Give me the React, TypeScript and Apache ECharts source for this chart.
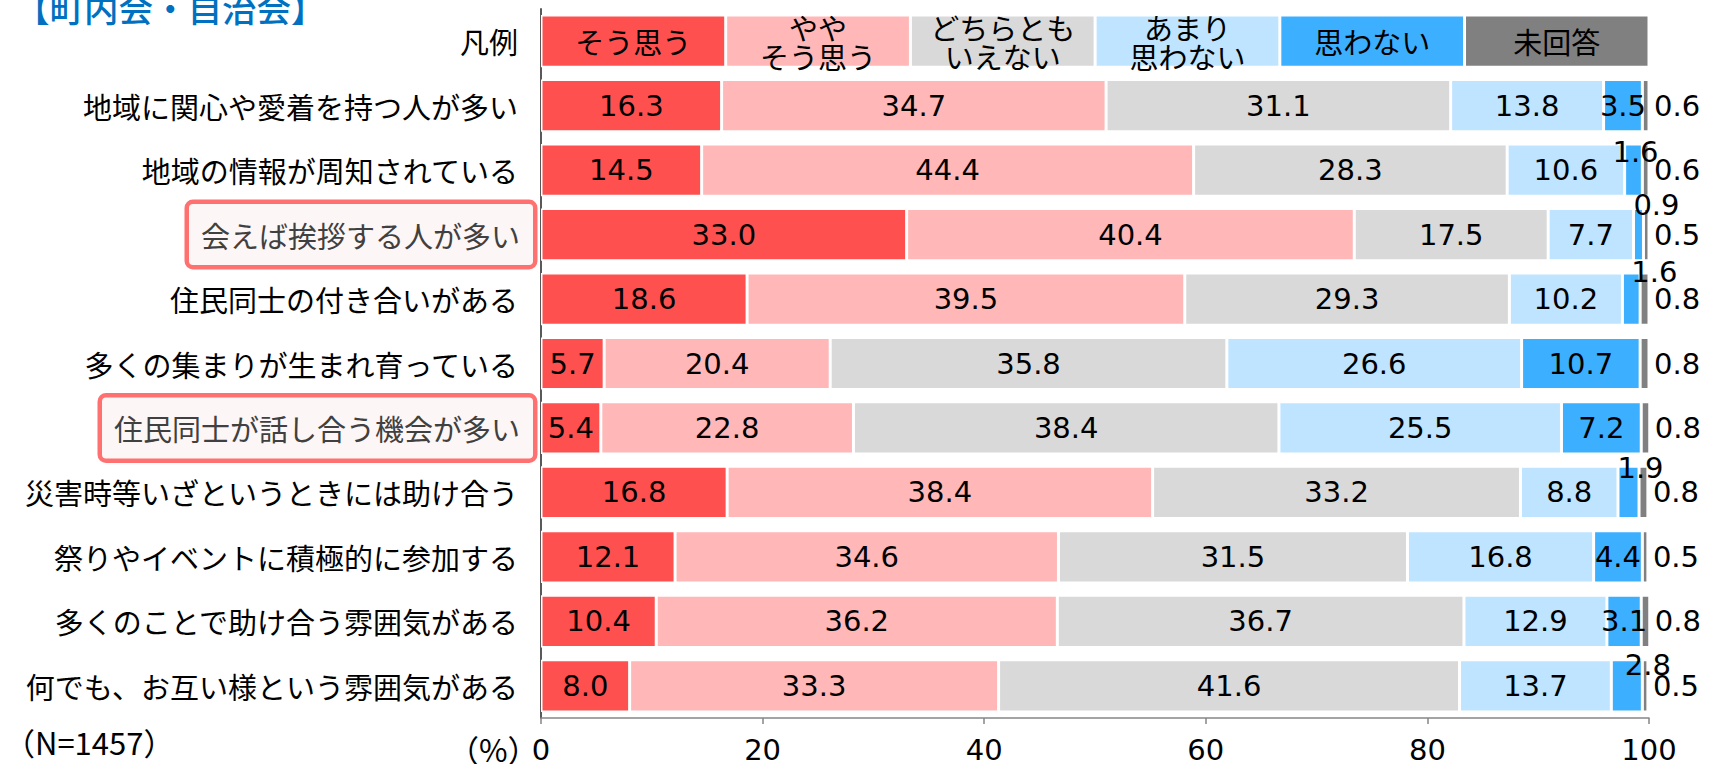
import React, { useEffect, useRef } from "react";
import * as echarts from "echarts";

const legendLabel = "凡例";
const categories = [
  "地域に関心や愛着を持つ人が多い",
  "地域の情報が周知されている",
  "会えば挨拶する人が多い",
  "住民同士の付き合いがある",
  "多くの集まりが生まれ育っている",
  "住民同士が話し合う機会が多い",
  "災害時等いざというときには助け合う",
  "祭りやイベントに積極的に参加する",
  "多くのことで助け合う雰囲気がある",
  "何でも、お互い様という雰囲気がある",
];
const highlighted = ["会えば挨拶する人が多い", "住民同士が話し合う機会が多い"];

const seriesNames = ["そう思う", "ややそう思う", "どちらともいえない", "あまり思わない", "思わない", "未回答"];
const legendTexts = ["そう思う", "やや\nそう思う", "どちらとも\nいえない", "あまり\n思わない", "思わない", "未回答"];
const legendShare = [16.67, 16.67, 16.67, 16.67, 16.67, 16.65];

const soOmou = [16.3, 14.5, 33.0, 18.6, 5.7, 5.4, 16.8, 12.1, 10.4, 8.0];
const yaya = [34.7, 44.4, 40.4, 39.5, 20.4, 22.8, 38.4, 34.6, 36.2, 33.3];
const dochira = [31.1, 28.3, 17.5, 29.3, 35.8, 38.4, 33.2, 31.5, 36.7, 41.6];
const amari = [13.8, 10.6, 7.7, 10.2, 26.6, 25.5, 8.8, 16.8, 12.9, 13.7];
const omowanai = [3.5, 1.6, 0.9, 1.6, 10.7, 7.2, 1.9, 4.4, 3.1, 2.8];
const mikaito = [0.6, 0.6, 0.5, 0.8, 0.8, 0.8, 0.8, 0.5, 0.8, 0.5];

const xTicks = { min: 0, max: 100, interval: 20 };
const sampleNote = "（N=1457）";
const unitNote = "（%）";
const title = "【町内会・自治会】";

const colors = ["#FF5050", "#FFB7B7", "#D9D9D9", "#BFE4FF", "#3DAFFF", "#808080"];

// label offsets for the small 思わない values (row index -> [dx, dy])
const smallLabelOffsets: Record<number, number[]> = {
  1: [2, -18],
  2: [18, -30],
  3: [23, -27],
  6: [12, -24],
  9: [21, -21],
};

const JP = "'Noto Sans CJK JP', 'Noto Sans', sans-serif";
const NUM = "'DejaVu Sans', sans-serif";

export default function App() {
  const ref = useRef<HTMLDivElement>(null);
  useEffect(() => {
    if (!ref.current) return;
    const chart = echarts.init(ref.current, undefined, { renderer: "svg" });
    const allValues = [soOmou, yaya, dochira, amari, omowanai, mikaito];
    const series = seriesNames.map((name, si) => ({
      type: "bar",
      name,
      stack: "total",
      barCategoryGap: "19%",
      silent: true,
      itemStyle: { color: colors[si], borderColor: "#ffffff", borderWidth: 1.5 },
      label: {
        show: true,
        position: si === 5 ? "right" : "inside",
        distance: 5,
        color: "#000",
        fontSize: 29,
        fontFamily: NUM,
        formatter: (p: any) =>
          p.dataIndex === 0 ? legendTexts[si] : Number(p.value).toFixed(1),
      },
      data: [
        {
          value: legendShare[si],
          label: {
            position: "inside",
            fontFamily: JP,
            fontSize: 29,
            lineHeight: 29,
            color: "#000",
          },
        },
        ...allValues[si].map((v, i) => {
          const off = si === 4 ? smallLabelOffsets[i] : undefined;
          return off ? { value: v, label: { offset: off } } : { value: v };
        }),
      ],
    }));

    chart.setOption({
      animation: false,
      grid: { left: 541, right: 62, top: 9, bottom: 45.5, containLabel: false },
      xAxis: {
        type: "value",
        min: xTicks.min,
        max: xTicks.max,
        interval: xTicks.interval,
        splitLine: { show: false },
        axisLine: { show: true, lineStyle: { color: "#868686", width: 1.5 } },
        axisTick: { show: true, length: 6, lineStyle: { color: "#868686", width: 1.5 } },
        axisLabel: { color: "#000", fontSize: 29, fontFamily: NUM, margin: 17 },
      },
      yAxis: {
        type: "category",
        inverse: true,
        data: [legendLabel, ...categories],
        axisLine: { show: true, lineStyle: { color: "#595959", width: 2 } },
        axisTick: { show: false },
        axisLabel: {
          margin: 8,
          formatter: (v: string) => (highlighted.includes(v) ? `{h|${v}}` : `{n|${v}}`),
          rich: {
            n: {
              fontFamily: JP,
              fontSize: 29,
              color: "#000",
              padding: [0, 15, 0, 0],
            },
            h: {
              fontFamily: JP,
              fontSize: 29,
              color: "#404040",
              lineHeight: 32,
              backgroundColor: "#FDF6F6",
              borderColor: "#FF7070",
              borderWidth: 4.5,
              borderRadius: 4,
              padding: [16, 13, 16, 12],
            },
          },
        },
      },
      graphic: [
        {
          type: "text",
          left: 15,
          top: -10,
          style: { text: title, fill: "#0070C0", font: `500 34.5px ${JP}` },
        },
        {
          type: "text",
          left: 4,
          top: 726,
          style: { text: sampleNote, fill: "#000", font: `31px ${JP}` },
        },
        {
          type: "text",
          left: 448,
          top: 733,
          style: { text: unitNote, fill: "#000", font: `31px ${JP}` },
        },
      ],
      series,
    });
    return () => chart.dispose();
  }, []);
  return (
    <div
      ref={ref}
      style={{ position: "fixed", left: 0, top: 0, width: "1711px", height: "764px", background: "#fff" }}
    />
  );
}
